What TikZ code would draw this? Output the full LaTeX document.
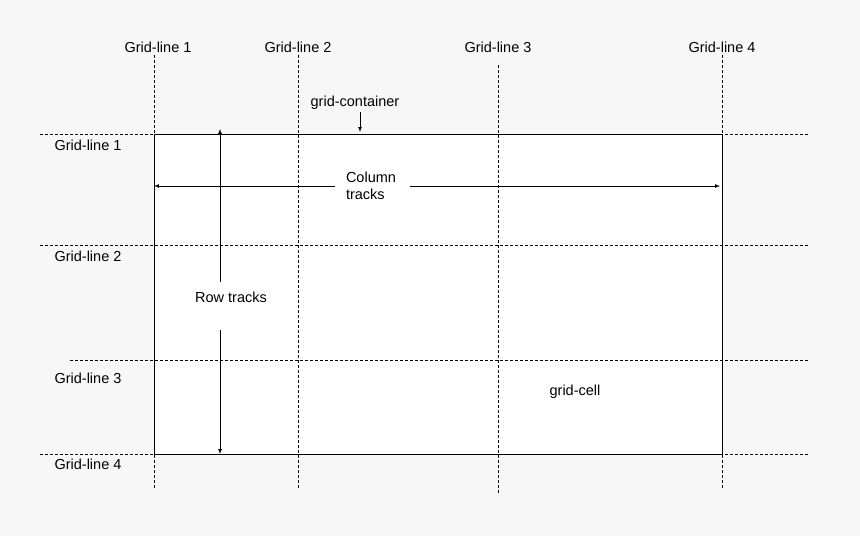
\documentclass[tikz,border=0pt]{standalone}
\usepackage{fontspec}
\setmainfont{Liberation Sans}
\begin{document}
\begin{tikzpicture}[x=1pt,y=-1pt,font=\fontsize{14.5}{17}\selectfont,
  gl/.style={dashed,line width=0.6pt,dash pattern=on 3pt off 2pt},
  arr/.style={-latex,line width=0.7pt}]
\fill[gray!6] (0,0) rectangle (860,536);
\useasboundingbox (0,0) rectangle (860,536);
\node[draw,fill=white,line width=0.8pt,minimum width=568pt,minimum height=320pt,inner sep=0,anchor=north west] (box) at (154,134) {};
\foreach \x/\a/\b in {154/55/488,298/55/488,498/65/495,722/55/488}
  \draw[gl] (\x,\a) -- (\x,\b);
\foreach \y/\a in {134/40,245/40,360/70,454/40}
  \draw[gl] (\a,\y) -- (808,\y);
\node (t1) at (158,47) {Grid-line 1};
\node (t2) at (298,47) {Grid-line 2};
\node (t3) at (498,47) {Grid-line 3};
\node (t4) at (722,47) {Grid-line 4};
\node (l1) at (88,145) {Grid-line 1};
\node (l2) at (88,256) {Grid-line 2};
\node (l3) at (88,378) {Grid-line 3};
\node (l4) at (88,464) {Grid-line 4};
\node (gc) at (355,103) {grid-container};
\coordinate (gcend) at (360,132);
\draw[arr] (360,112) -- (gcend);
\node[align=left] (ct) at (371,186) {Column\\tracks};
\coordinate (cl) at (154,186);
\coordinate (cr) at (720,186);
\draw[arr] (335,186) -- (cl);
\draw[arr] (410,186) -- (cr);
\node (rt) at (231,297) {Row tracks};
\coordinate (rtop) at (220,129);
\coordinate (rbot) at (220,454);
\draw[arr] (220,282) -- (rtop);
\draw[arr] (220,330) -- (rbot);
\node (cell) at (575,392) {grid-cell};
\end{tikzpicture}
\end{document}
